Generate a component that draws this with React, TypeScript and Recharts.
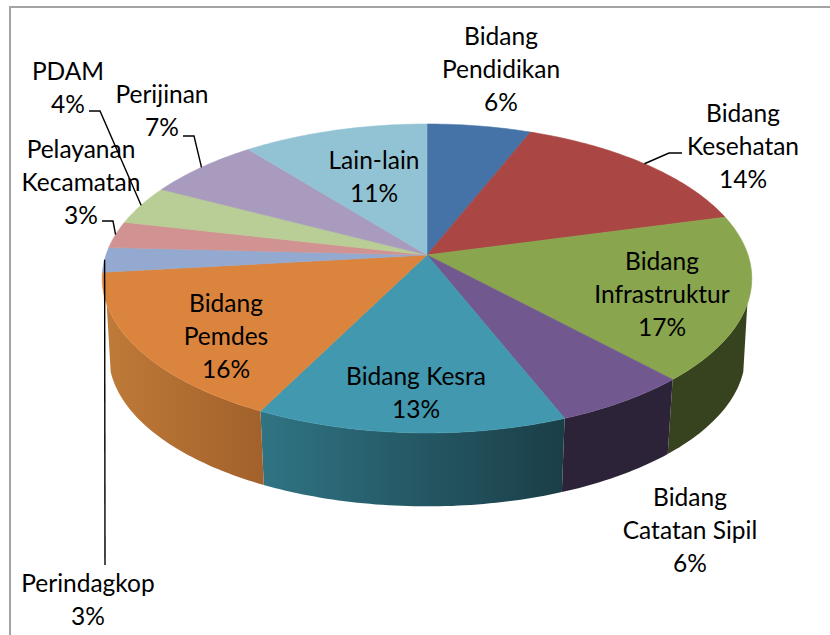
import { Pie, PieChart } from "recharts";

// slice names and the percentages printed on the labels
const names = [
  "Bidang Pendidikan",
  "Bidang Kesehatan",
  "Bidang Infrastruktur",
  "Bidang Catatan Sipil",
  "Bidang Kesra",
  "Bidang Pemdes",
  "Perindagkop",
  "Pelayanan Kecamatan",
  "PDAM",
  "Perijinan",
  "Lain-lain",
];
const percentLabels = ["6%", "14%", "17%", "6%", "13%", "16%", "3%", "3%", "4%", "7%", "11%"];

// slice sizes (the labels are rounded)
const shares = [6.0, 14.8, 17.3, 5.9, 13.4, 15.8, 2.6, 2.8, 4.1, 6.6, 10.7];

const topColors = [
  "#4572A7", "#AA4643", "#89A54E", "#71588F", "#4198AF", "#DB843D",
  "#93A9CF", "#D19392", "#B9CD96", "#A99BBD", "#92C3D4",
];
const wallFrom = [
  "#2A4464", "#662A28", "#36431E", "#2C2338", "#307484", "#BE7A38",
  "#5A6A85", "#7F5958", "#72805B", "#675E74", "#5A7883",
];
const wallTo = [
  "#2A4464", "#662A28", "#36431E", "#2C2338", "#1A3E47", "#A2612B",
  "#5A6A85", "#7F5958", "#72805B", "#675E74", "#5A7883",
];

const labelLines = [
  ["Bidang", "Pendidikan"],
  ["Bidang", "Kesehatan"],
  ["Bidang", "Infrastruktur"],
  ["Bidang", "Catatan Sipil"],
  ["Bidang Kesra"],
  ["Bidang", "Pemdes"],
  ["Perindagkop"],
  ["Pelayanan", "Kecamatan"],
  ["PDAM"],
  ["Perijinan"],
  ["Lain-lain"],
];

// where each label block sits: centre x, first baseline
const labelSpots = [
  [501, 45], [743, 122], [662, 270], [690, 506], [416, 385], [226, 312],
  [88, 592], [81, 158], [68, 80], [162, 103], [374, 169],
];

// leader line from the label side towards the rim (null = label sits on the slice)
const leaderPoints: (number[][] | null)[] = [
  null,
  [[682, 153], [669, 153]],
  null,
  null,
  null,
  null,
  [[105, 565]],
  [[102, 221], [113, 221]],
  [[89, 111], [100, 111]],
  [[183, 136], [194, 136]],
  null,
];

const tableData = names.map((name, i) => ({
  name,
  share: shares[i],
  fill: topColors[i],
  wallFrom: wallFrom[i],
  wallTo: wallTo[i],
}));

const CX = 427;
const CY = 255;
const RADIUS = 321;
const TILT = 0.47;
const PERSPECTIVE = 0.152;
const DROP = 77;
const BOTTOM_SCALE = 0.98;
const LINE_HEIGHT = 33;

// rim point for a clockwise-from-top angle, with the far side pulled in
function project(theta: number, cx: number, cy: number, r: number, scale = 1, drop = 0) {
  const rad = (theta * Math.PI) / 180;
  const w = 1 + PERSPECTIVE * Math.cos(rad);
  return {
    x: cx + (scale * r * Math.sin(rad)) / w,
    y: cy + drop - (scale * r * TILT * Math.cos(rad)) / w,
  };
}

function arcPoints(from: number, to: number, cx: number, cy: number, r: number, scale = 1, drop = 0) {
  const pts = [];
  const steps = Math.max(2, Math.ceil(Math.abs(to - from)));
  for (let i = 0; i <= steps; i++) {
    const p = project(from + ((to - from) * i) / steps, cx, cy, r, scale, drop);
    pts.push(`${p.x.toFixed(2)} ${p.y.toFixed(2)}`);
  }
  return pts;
}

function TopSlice(props: any) {
  const { cx, cy, outerRadius, startAngle, endAngle, fill } = props;
  const pts = arcPoints(90 - startAngle, 90 - endAngle, cx, cy, outerRadius);
  return <path d={`M${cx} ${cy}L${pts.join("L")}Z`} fill={fill} stroke={fill} strokeWidth={0.6} />;
}

function WallSlice(props: any) {
  const { cx, cy, outerRadius, startAngle, endAngle, index } = props;
  const row = props.payload ?? props;
  const start = 90 - startAngle;
  const end = 90 - endAngle;
  // the wall only shows between the two silhouette edges
  const topFrom = Math.max(start, 108);
  const topTo = Math.min(end, 252);
  const botFrom = Math.max(start, 105);
  const botTo = Math.min(end, 255);
  if (topTo <= topFrom) return <g />;
  const top = arcPoints(topFrom, topTo, cx, cy, outerRadius);
  const bottom = arcPoints(botTo, botFrom, cx, cy, outerRadius, BOTTOM_SCALE, DROP);
  const id = `wall-${index ?? row.name.replace(/\W/g, "")}`;
  return (
    <g>
      <defs>
        <linearGradient id={id} x1="0" y1="0" x2="1" y2="0">
          <stop offset="0" stopColor={row.wallFrom} />
          <stop offset="1" stopColor={row.wallTo} />
        </linearGradient>
      </defs>
      <path d={`M${top.join("L")}L${bottom.join("L")}Z`} fill={`url(#${id})`} />
    </g>
  );
}

function SliceLabel(props: any) {
  const { cx, cy, outerRadius, midAngle, index } = props;
  const [x, y] = labelSpots[index];
  const lines = [...labelLines[index], percentLabels[index]];
  const leader = leaderPoints[index];
  let path = "";
  if (leader) {
    const tip = project(90 - midAngle, cx, cy, outerRadius);
    path = `M${leader.map((p) => p.join(" ")).join("L")}L${tip.x} ${tip.y}`;
  }
  return (
    <g>
      {path && <path d={path} fill="none" stroke="#000" strokeWidth={1.4} />}
      <text textAnchor="middle" fontFamily="Lato, Carlito, sans-serif" fontSize={24.5} fill="#000">
        {lines.map((line, i) => (
          <tspan key={i} x={x} y={y + i * LINE_HEIGHT}>
            {line}
          </tspan>
        ))}
      </text>
    </g>
  );
}

export default function App() {
  return (
    <div style={{ position: "absolute", left: 0, top: 0, width: 830, height: 635, overflow: "hidden", background: "#fff" }}>
      <div
        style={{
          position: "absolute",
          left: 9,
          top: 6,
          width: 900,
          height: 700,
          border: "2px solid #a3a3a3",
        }}
      />
      <div style={{ position: "absolute", left: 0, top: 0 }}>
        <PieChart width={830} height={635} margin={{ top: 0, right: 0, bottom: 0, left: 0 }}>
          <Pie
            data={tableData}
            dataKey="share"
            nameKey="name"
            cx={CX}
            cy={CY}
            outerRadius={RADIUS}
            startAngle={90}
            endAngle={-270}
            stroke="none"
            shape={WallSlice}
            isAnimationActive={false}
          />
          <Pie
            data={tableData}
            dataKey="share"
            nameKey="name"
            cx={CX}
            cy={CY}
            outerRadius={RADIUS}
            startAngle={90}
            endAngle={-270}
            stroke="none"
            shape={TopSlice}
            label={SliceLabel}
            labelLine={false}
            isAnimationActive={false}
          />
        </PieChart>
      </div>
    </div>
  );
}
